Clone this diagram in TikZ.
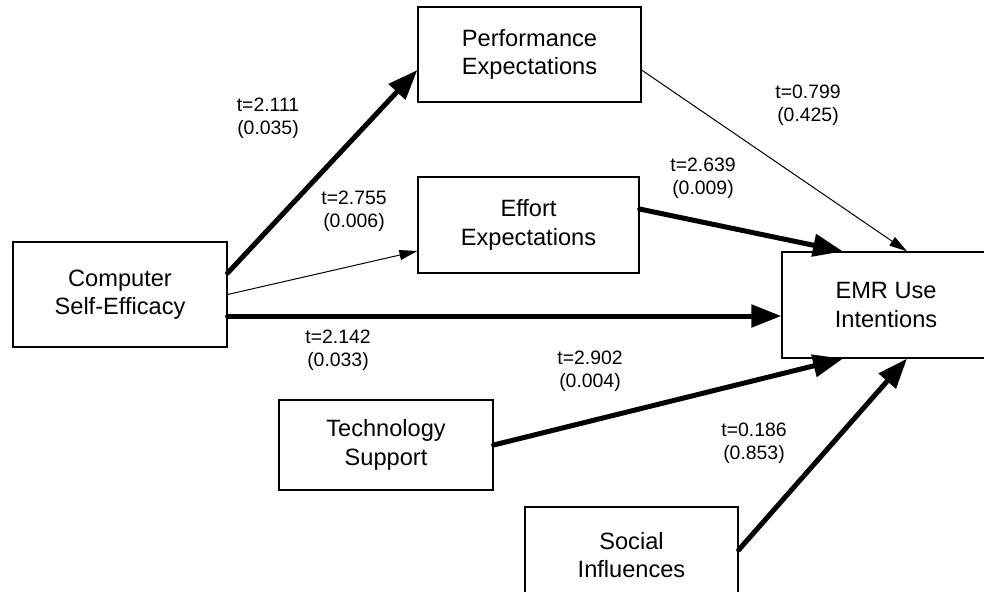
\documentclass[tikz,border=0pt]{standalone}
\usepackage{fontspec}
\setmainfont{Liberation Sans}
\usetikzlibrary{arrows.meta}
\tikzset{
  factor/.style={rectangle, draw, line width=0.6pt, align=center, inner sep=0pt, font=\fontsize{11.8}{14.2}\selectfont},
  tval/.style={align=center, inner sep=0pt, font=\fontsize{9.7}{11.5}\selectfont},
  strong/.style={line width=2.5pt, line cap=round, -{Triangle[length=15pt,width=11pt]}},
  weak/.style={line width=0.5pt, -{Triangle[length=9pt,width=5pt]}}
}
\begin{document}
\begin{tikzpicture}[x=0.5pt, y=-0.5pt]
      \useasboundingbox (0,0) rectangle (984,591);
      \node[factor, minimum width=107pt, minimum height=52.5pt] (cse) at (120,294.5) {Computer\\Self-Efficacy};
      \node[factor, minimum width=111.5pt, minimum height=47.5pt] (pe) at (529.5,54.5) {Performance\\Expectations};
      \node[factor, minimum width=110.5pt, minimum height=48pt] (ee) at (528.5,225) {Effort\\Expectations};
      \node[factor, minimum width=104pt, minimum height=53pt] (emr) at (886,305) {EMR Use\\Intentions};
      \node[factor, minimum width=107pt, minimum height=45pt] (ts) at (386,445) {Technology\\Support};
      \node[factor, minimum width=106.5pt, minimum height=48pt] (si) at (631.5,555) {Social\\Influences};

      \node[tval] (t1) at (268,118.5) {t=2.111\\(0.035)};
      \node[tval] (t2) at (354,211.5) {t=2.755\\(0.006)};
      \node[tval] (t3) at (338,350) {t=2.142\\(0.033)};
      \node[tval] (t4) at (808,105) {t=0.799\\(0.425)};
      \node[tval] (t5) at (703,178.5) {t=2.639\\(0.009)};
      \node[tval] (t6) at (590,371) {t=2.902\\(0.004)};
      \node[tval] (t7) at (754,443.5) {t=0.186\\(0.853)};

      \foreach \source/\sy/\dest/\dx/\dy/\kind in {
        cse.east/10.75pt/pe.west/0pt/-7.75pt/strong, cse.east/0pt/ee.west/0pt/-13pt/weak,
        cse.east/-10.75pt/emr.west/0pt/-5.5pt/strong, pe.east/-7.75pt/emr.north/10.5pt/0pt/weak,
        ee.east/8pt/emr.north/-21.5pt/0pt/strong, ts.east/0pt/emr.south/-21.5pt/0pt/strong,
        si.east/2.5pt/emr.south/10.5pt/0pt/strong}
        \draw[\kind] ([yshift=\sy]\source) -- ([xshift=\dx, yshift=\dy]\dest);
\end{tikzpicture}
\end{document}
